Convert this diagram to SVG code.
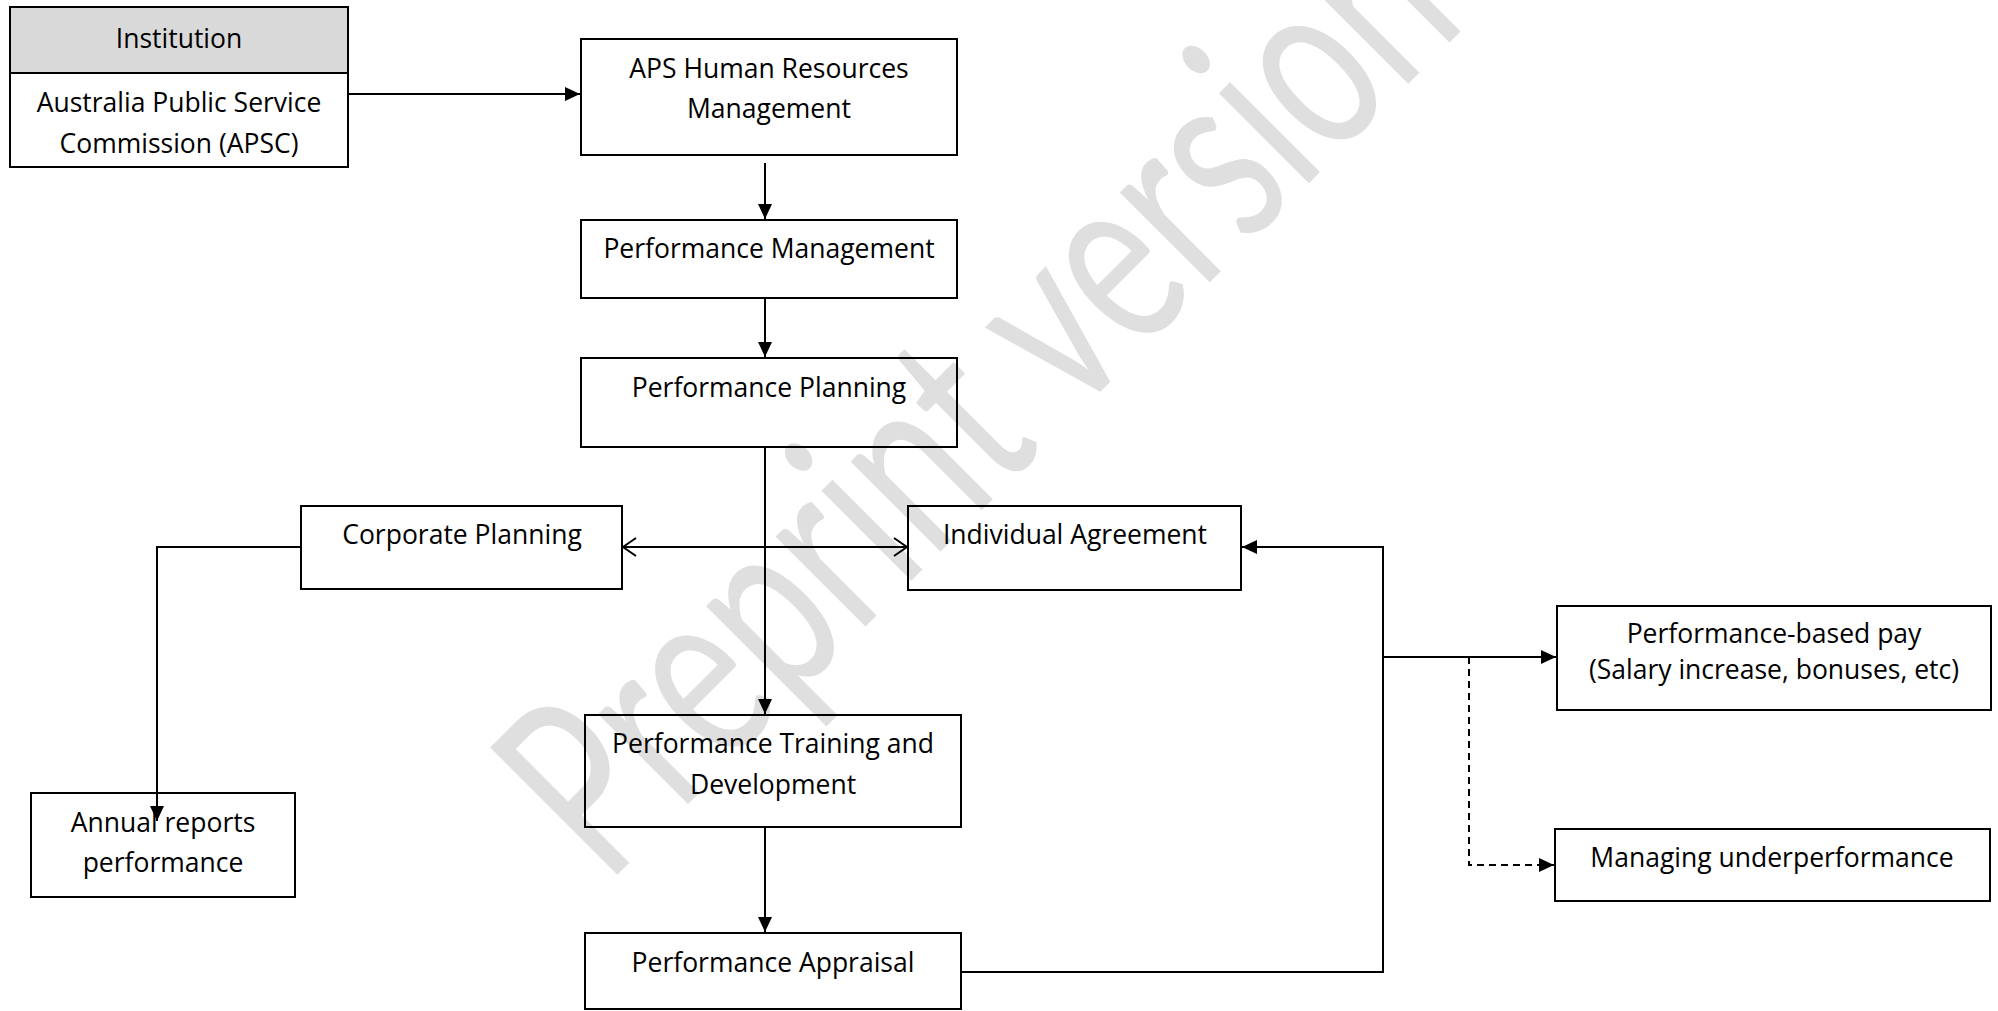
<svg xmlns="http://www.w3.org/2000/svg" width="1998" height="1011" viewBox="0 0 1998 1011">
  <style>
    .box { fill: none; stroke: #000; stroke-width: 2; }
    .hdr { fill: #d9d9d9; stroke: #000; stroke-width: 2; }
    .lbl { font-family: "Open Sans", "Noto Sans", sans-serif; font-size: 26.5px; fill: #000; text-anchor: middle; }
    .conn { fill: none; stroke: #000; stroke-width: 2; }
    .dash { stroke-dasharray: 7 5; }
    .wm { font-family: Lato, "Open Sans", sans-serif; font-size: 251px; fill: #dfdfdf; }
  </style>
  <defs>
    <marker id="arr" markerUnits="userSpaceOnUse" markerWidth="15" markerHeight="14" viewBox="0 0 15 14" refX="15" refY="7" orient="auto">
      <path d="M0,0 L15,7 L0,14 z" fill="#000"/>
    </marker>
    <marker id="open" markerUnits="userSpaceOnUse" markerWidth="16" markerHeight="22" viewBox="0 0 16 22" refX="15" refY="11" orient="auto-start-reverse">
      <path d="M2,2 L15,11 L2,20" fill="none" stroke="#000" stroke-width="2"/>
    </marker>
  </defs>

  <rect width="1998" height="1011" fill="#fff"/>

  <g id="watermark">
    <text class="wm" transform="translate(606,886) rotate(-45)" x="0" y="0" textLength="1220" lengthAdjust="spacingAndGlyphs">Preprint version</text>
  </g>

  <g id="connectors">
    <path class="conn" d="M349,94 H580" marker-end="url(#arr)"/>
    <path class="conn" d="M765,163 V219" marker-end="url(#arr)"/>
    <path class="conn" d="M765,298 V357" marker-end="url(#arr)"/>
    <path class="conn" d="M765,447 V714" marker-end="url(#arr)"/>
    <path class="conn" d="M765,827 V932" marker-end="url(#arr)"/>
    <path class="conn" d="M623,547 H907" marker-start="url(#open)" marker-end="url(#open)"/>
    <path class="conn" d="M301,547 H157 V821" marker-end="url(#arr)"/>
    <path class="conn" d="M961,972 H1383 V547 H1242" marker-end="url(#arr)"/>
    <path class="conn" d="M1383,657 H1556" marker-end="url(#arr)"/>
    <path class="conn dash" d="M1469,657 V865 H1554" marker-end="url(#arr)"/>
  </g>

  <g id="institution">
    <rect class="hdr" x="10" y="7" width="338" height="66"/>
    <rect class="box" x="10" y="73" width="338" height="94"/>
    <text class="lbl" x="179" y="48">Institution</text>
    <text class="lbl" x="179" y="112">Australia Public Service</text>
    <text class="lbl" x="179" y="153">Commission (APSC)</text>
  </g>

  <g id="aps-hrm">
    <rect class="box" x="581" y="39" width="376" height="116"/>
    <text class="lbl" x="769" y="78">APS Human Resources</text>
    <text class="lbl" x="769" y="118">Management</text>
  </g>

  <g id="performance-management">
    <rect class="box" x="581" y="220" width="376" height="78"/>
    <text class="lbl" x="769" y="258">Performance Management</text>
  </g>

  <g id="performance-planning">
    <rect class="box" x="581" y="358" width="376" height="89"/>
    <text class="lbl" x="769" y="397">Performance Planning</text>
  </g>

  <g id="corporate-planning">
    <rect class="box" x="301" y="506" width="321" height="83"/>
    <text class="lbl" x="462" y="544">Corporate Planning</text>
  </g>

  <g id="individual-agreement">
    <rect class="box" x="908" y="506" width="333" height="84"/>
    <text class="lbl" x="1075" y="544">Individual Agreement</text>
  </g>

  <g id="annual-reports">
    <rect class="box" x="31" y="793" width="264" height="104"/>
    <text class="lbl" x="163" y="832">Annual reports</text>
    <text class="lbl" x="163" y="872">performance</text>
  </g>

  <g id="training-development">
    <rect class="box" x="585" y="715" width="376" height="112"/>
    <text class="lbl" x="773" y="753">Performance Training and</text>
    <text class="lbl" x="773" y="794">Development</text>
  </g>

  <g id="appraisal">
    <rect class="box" x="585" y="933" width="376" height="76"/>
    <text class="lbl" x="773" y="972">Performance Appraisal</text>
  </g>

  <g id="performance-pay">
    <rect class="box" x="1557" y="606" width="434" height="104"/>
    <text class="lbl" x="1774" y="643">Performance-based pay</text>
    <text class="lbl" x="1774" y="679">(Salary increase, bonuses, etc)</text>
  </g>

  <g id="underperformance">
    <rect class="box" x="1555" y="829" width="435" height="72"/>
    <text class="lbl" x="1772" y="867">Managing underperformance</text>
  </g>
</svg>
